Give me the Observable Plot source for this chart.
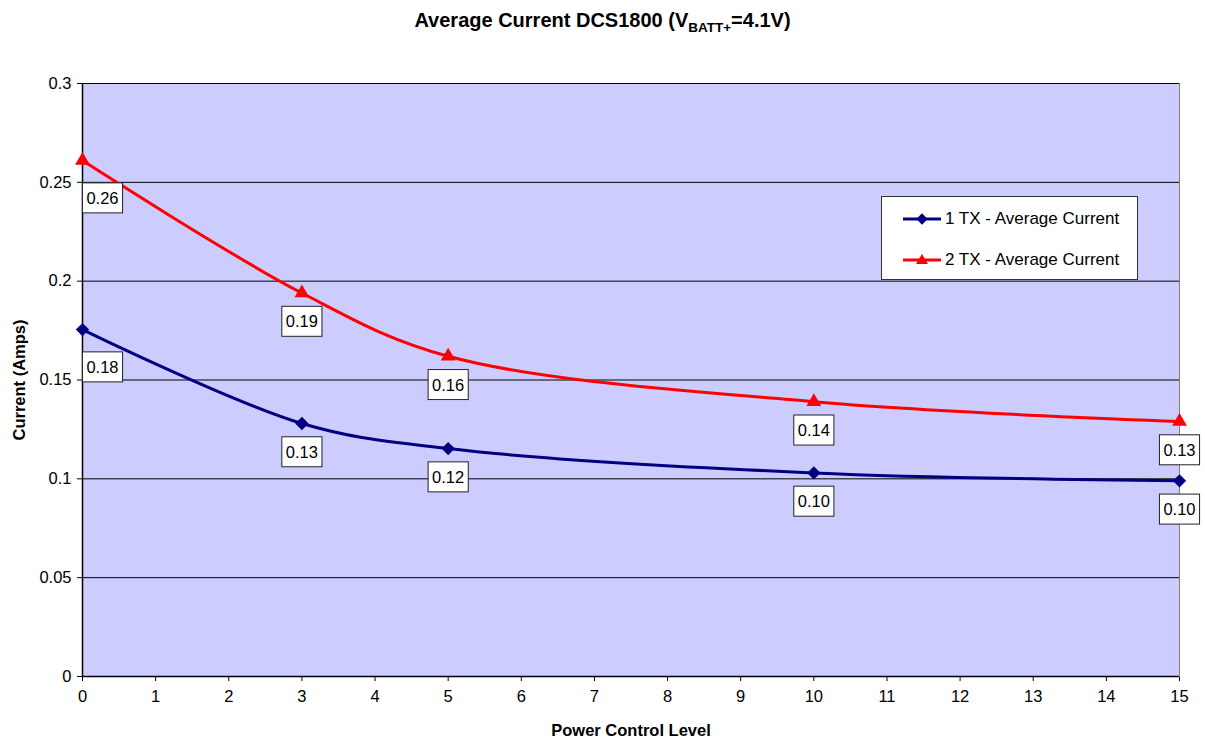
<!DOCTYPE html>
<html>
<head>
<meta charset="utf-8">
<script src="https://cdn.jsdelivr.net/npm/d3@7"></script>
<script src="https://cdn.jsdelivr.net/npm/@observablehq/plot@0.6"></script>
<style>
  body { margin: 0; background: #fff; font-family: "Liberation Sans", Arial, sans-serif; }
  #wrap { position: relative; width: 1205px; height: 743px; overflow: hidden; }
  #title { height: 45px; width: 1205px; text-align: center; font-weight: bold; font-size: 20px; line-height: 20px; padding-top: 10px; box-sizing: border-box; color: #000; }
  #title sub { font-size: 13.5px; vertical-align: -5px; line-height: 0; }
  .axlab { position: absolute; font-weight: bold; font-size: 16.5px; color: #000; white-space: nowrap; }
  #legend { position: absolute; left: 881px; top: 196px; width: 257px; height: 84px; box-sizing: border-box; border: 1px solid #333; background: #fff; font-size: 17px; }
  .lrow { position: absolute; left: 21px; height: 20px; display: flex; align-items: center; white-space: nowrap; }
  .lrow svg { margin-right: 2px; }
</style>
</head>
<body>
<div id="wrap">
  <div id="title">Average Current DCS1800 (V<sub>BATT+</sub>=4.1V)</div>
  <div id="chart"></div>
  <div class="axlab" id="xlab" style="left:631px; top:721px; transform:translateX(-50%);">Power Control Level</div>
  <div class="axlab" id="ylab" style="left:19px; top:380px; transform:translate(-50%,-50%) rotate(-90deg);">Current (Amps)</div>
  <div id="legend"></div>
</div>
<script>
// ---- data ----
const powerLevels = [0, 3, 5, 10, 15];
const tx1Current = [0.1755, 0.128, 0.1153, 0.103, 0.099];
const tx2Current = [0.261, 0.194, 0.162, 0.139, 0.129];
const seriesNames = ["1 TX - Average Current", "2 TX - Average Current"];
const xTicks = d3.range(0, 16);
const yTicks = [0, 0.05, 0.1, 0.15, 0.2, 0.25, 0.3];

const colors = ["#000080", "#ff0000"];
const symbols = ["diamond2", "triangle"];

const rows1 = powerLevels.map((x, i) => ({ x, y: tx1Current[i] }));
const rows2 = powerLevels.map((x, i) => ({ x, y: tx2Current[i] }));
const allRows = rows1.concat(rows2);
const fmt = d3.format(".2f");

const chart = Plot.plot({
  width: 1205,
  height: 698,
  marginTop: 38,
  marginBottom: 67,
  marginLeft: 82,
  marginRight: 26,
  style: { fontFamily: "Liberation Sans, Arial, sans-serif", fontSize: "16.5px", color: "#000", background: "transparent", overflow: "visible" },
  x: { domain: [0, 15], ticks: xTicks, tickFormat: d => String(d), tickSize: 5, tickPadding: 9, label: null },
  y: { domain: [0, 0.3], ticks: yTicks, tickFormat: d => String(+d.toFixed(2)), tickSize: 5, tickPadding: 6, label: null },
  marks: [
    Plot.frame({ fill: "#ccccff", stroke: "#808080" }),
    Plot.ruleY(yTicks, { stroke: "#000", strokeWidth: 1 }),
    Plot.ruleY([0], { stroke: "#000", strokeWidth: 1.5 }),
    Plot.ruleX([0], { stroke: "#000", strokeWidth: 1.5 }),
    Plot.line(rows1, { x: "x", y: "y", stroke: colors[0], strokeWidth: 3, curve: "catmull-rom" }),
    Plot.line(rows2, { x: "x", y: "y", stroke: colors[1], strokeWidth: 3, curve: "catmull-rom" }),
    Plot.dot(rows1, { x: "x", y: "y", symbol: symbols[0], r: 6, fill: colors[0], stroke: "none" }),
    Plot.dot(rows2, { x: "x", y: "y", symbol: symbols[1], r: 5.5, fill: colors[1], stroke: "none" }),
    Plot.text(allRows, { filter: d => d.x !== 0, x: "x", y: "y", text: d => fmt(d.y), dy: 29, fill: "#000", fontSize: 16.5, textAnchor: "middle", lineAnchor: "middle" }),
    Plot.text(allRows, { filter: d => d.x === 0, x: "x", y: "y", text: d => fmt(d.y), dy: 38, dx: 20, fill: "#000", fontSize: 16.5, textAnchor: "middle", lineAnchor: "middle" })
  ]
});
document.getElementById("chart").appendChild(chart);

// white boxes behind value labels
const labelTexts = Array.from(chart.querySelectorAll('g[aria-label="text"] text'));
labelTexts.forEach(t => {
  const bb = t.getBBox();
  const r = document.createElementNS("http://www.w3.org/2000/svg", "rect");
  const w = bb.width + 8, h = 30;
  r.setAttribute("x", bb.x + bb.width / 2 - w / 2);
  r.setAttribute("y", bb.y + bb.height / 2 - h / 2);
  r.setAttribute("width", w);
  r.setAttribute("height", h);
  r.setAttribute("fill", "#fff");
  r.setAttribute("stroke", "#222");
  r.setAttribute("stroke-width", 1);
  const tr = t.getAttribute("transform");
  if (tr) r.setAttribute("transform", tr);
  t.parentNode.insertBefore(r, t);
});

// legend
const legend = document.getElementById("legend");
seriesNames.forEach((name, i) => {
  const row = document.createElement("div");
  row.className = "lrow";
  row.style.top = (i === 0 ? 12 : 53) + "px";
  const marker = i === 0
    ? `<rect x="15" y="6" width="8" height="8" transform="rotate(45 19 10)" fill="${colors[0]}"/>`
    : `<path d="M19,4 L25,14 L13,14 Z" fill="${colors[1]}"/>`;
  row.innerHTML = `<svg width="40" height="20"><line x1="0" y1="10" x2="38" y2="10" stroke="${colors[i]}" stroke-width="3"/>${marker}</svg><span>${name}</span>`;
  legend.appendChild(row);
});
</script>
</body>
</html>
